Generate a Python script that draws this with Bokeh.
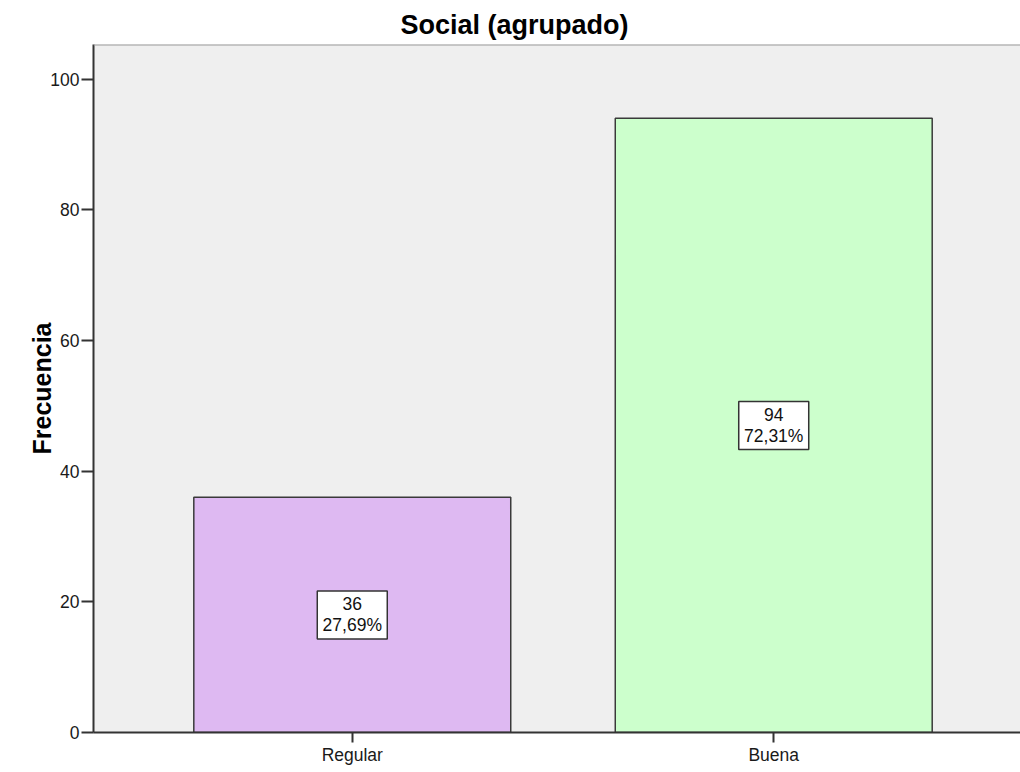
from bokeh.plotting import figure
from bokeh.models import FixedTicker, ColumnDataSource, Span
from bokeh.core.properties import value
from bokeh.embed import file_html
from bokeh.resources import INLINE

categories = ["Regular", "Buena"]
counts = [36, 94]
percents = ["27,69%", "72,31%"]
bar_colors = ["#DEB9F2", "#CCFFCC"]
y_ticks = [0, 20, 40, 60, 80, 100]

FONT = "Liberation Sans"
x_pos = list(range(len(categories)))
labels = [f"{c}\n{p}" for c, p in zip(counts, percents)]

src = ColumnDataSource(dict(
    x=x_pos, top=counts, mid=[c / 2 for c in counts],
    color=bar_colors, label=labels,
))

Y_END = 105.3
p = figure(width=1020, height=770, output_backend="svg", toolbar_location=None,
           x_range=(-0.614, 1.5855), y_range=(0, Y_END),
           min_border_left=93, min_border_right=0, min_border_top=44,
           min_border_bottom=38, background_fill_color="#EFEFEF",
           border_fill_color="white", outline_line_color=None,
           title="Social (agrupado)")

p.title.text_font = FONT
p.title.text_font_size = "27px"
p.title.text_font_style = "bold"
p.title.text_color = "#000000"
p.title.align = "left"
p.title.offset = 307

p.vbar(x="x", top="top", bottom=0, width=0.752, source=src,
       fill_color="color", line_color="#3a3a3a", line_width=1.5)

p.rect(x="x", y="mid", width=70, height=48, width_units="screen",
       height_units="screen", source=src, fill_color="white",
       line_color="#333333", line_width=1.5)
p.text(x="x", y="mid", text="label", source=src, text_align="center",
       text_baseline="middle", text_font=value(FONT), text_font_size="17.5px",
       text_line_height=1.05, text_color="#111111")

p.add_layout(Span(location=Y_END, dimension="width", line_color="#9a9a9a",
                  line_width=2))

p.xgrid.visible = False
p.ygrid.visible = False

ya = p.yaxis[0]
ya.ticker = FixedTicker(ticks=y_ticks)
ya.axis_label = "Frecuencia"
ya.axis_label_text_font = FONT
ya.axis_label_text_font_size = "25px"
ya.axis_label_text_font_style = "bold"
ya.axis_label_text_color = "#000000"
ya.axis_label_standoff = -9
ya.major_label_text_font = FONT
ya.major_label_text_font_size = "17.5px"
ya.major_label_text_color = "#1a1a1a"
ya.major_label_standoff = 2
ya.major_tick_out = 12
ya.major_tick_in = 0
ya.minor_tick_line_color = None
ya.axis_line_color = "#333333"
ya.axis_line_width = 2
ya.major_tick_line_color = "#333333"
ya.major_tick_line_width = 2

xa = p.xaxis[0]
xa.ticker = FixedTicker(ticks=x_pos)
xa.major_label_overrides = {i: c for i, c in zip(x_pos, categories)}
xa.major_label_text_font = FONT
xa.major_label_text_font_size = "17.5px"
xa.major_label_text_color = "#1a1a1a"
xa.major_label_standoff = 2
xa.major_tick_out = 10
xa.major_tick_in = 0
xa.minor_tick_line_color = None
xa.axis_line_color = "#333333"
xa.axis_line_width = 2
xa.major_tick_line_color = "#333333"
xa.major_tick_line_width = 2

open("out.html", "w").write(file_html(p, INLINE))
